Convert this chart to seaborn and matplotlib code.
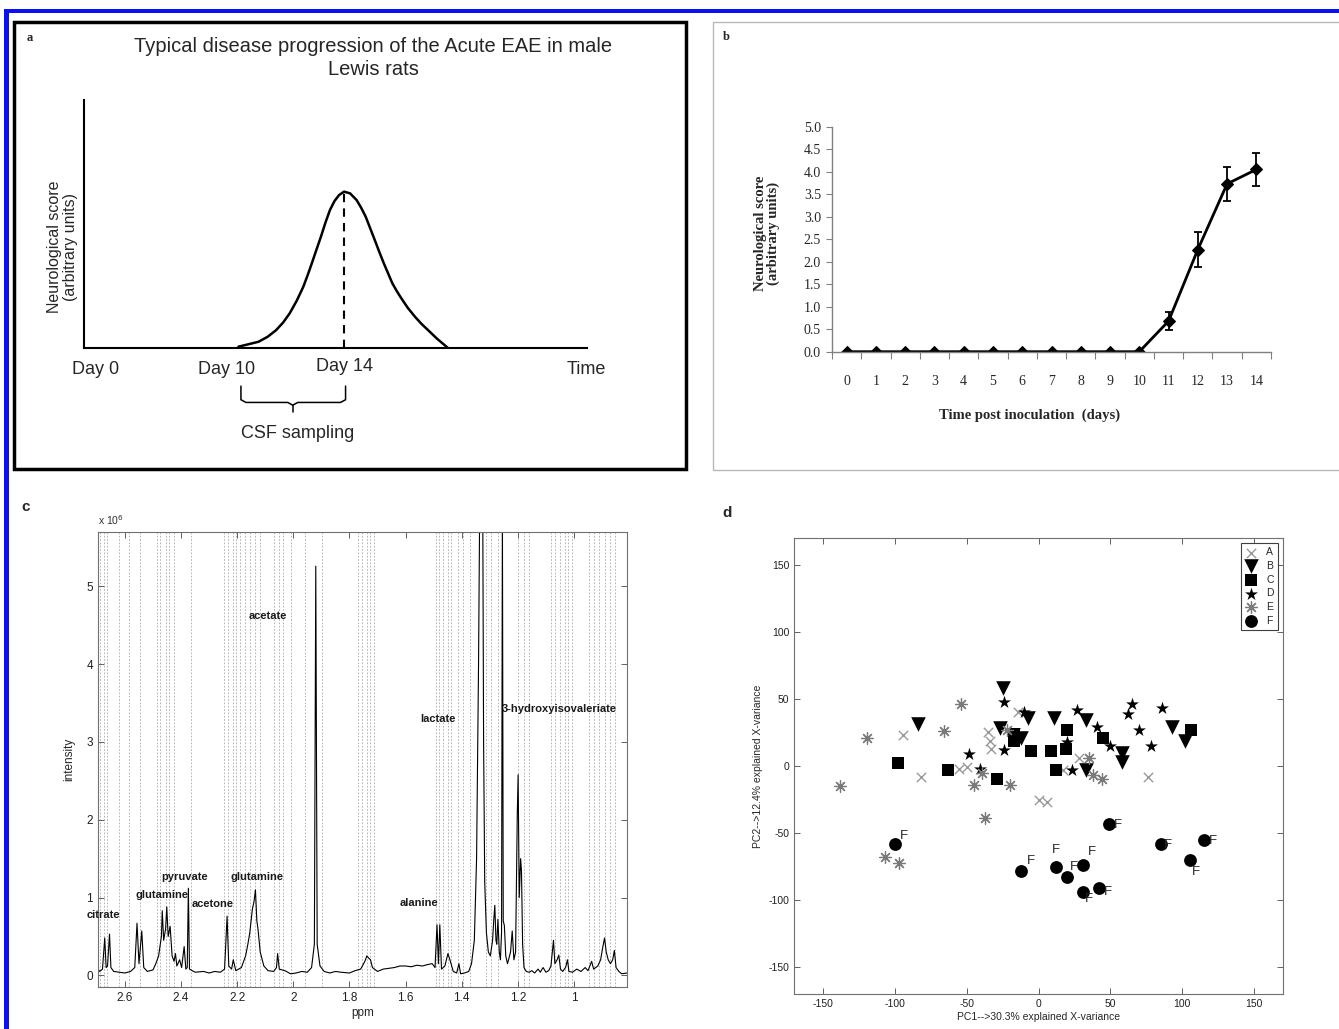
import numpy as np
import pandas as pd
import matplotlib
matplotlib.use("Agg")
import matplotlib.pyplot as plt
from matplotlib.patches import Rectangle
import seaborn as sns

# ---------------- data ----------------
# panel a : schematic disease curve (time units 0-100, score 0-100)
curve_t = [30.7, 34.7, 36.5, 38.2, 39.6, 40.9, 42.3, 43.6, 44.5, 45.3,
           46.2, 47.1, 48.0, 48.9, 49.8, 50.7, 51.7, 52.9, 54.2, 55.1,
           56.0, 56.9, 57.8, 58.7, 59.6, 60.5, 61.3, 62.2, 63.1, 64.4,
           65.8, 67.1, 68.4, 70.2, 72.3]
curve_score = [0.4, 2.4, 4.4, 7.1, 10.2, 13.9, 19.0, 24.6, 29.5, 34.1,
               39.5, 44.8, 50.5, 55.6, 59.2, 61.6, 63.0, 62.3, 59.6, 56.5,
               52.9, 48.2, 43.5, 38.7, 34.1, 29.8, 26.0, 22.8, 19.9, 16.0,
               12.5, 9.6, 7.1, 3.6, 0.0]
day_labels = ["Day 0", "Day 10", "Day 14", "Time"]
day_pos = [2.2, 28.4, 51.8, 99.8]

# panel b : neurological score per day
days = list(range(15))
score_mean = [0, 0, 0, 0, 0, 0, 0, 0, 0, 0, 0, 0.68, 2.27, 3.73, 4.05]
score_err = [0, 0, 0, 0, 0, 0, 0, 0, 0, 0, 0, 0.20, 0.38, 0.38, 0.37]

# panel c : CSF 1H NMR spectrum, intensity in 1e6 units
ppm = [2.700, 2.690, 2.680, 2.672, 2.667, 2.662, 2.655, 2.650, 2.640, 2.620,
       2.600, 2.580, 2.565, 2.557, 2.550, 2.540, 2.533, 2.520, 2.500, 2.490,
       2.480, 2.476, 2.470, 2.467, 2.462, 2.455, 2.451, 2.446, 2.439, 2.432,
       2.425, 2.420, 2.415, 2.405, 2.398, 2.389, 2.383, 2.378, 2.374, 2.370,
       2.350, 2.320, 2.300, 2.280, 2.260, 2.245, 2.236, 2.230, 2.220, 2.214,
       2.205, 2.185, 2.170, 2.162, 2.155, 2.146, 2.140, 2.135, 2.130, 2.126,
       2.118, 2.105, 2.090, 2.070, 2.060, 2.056, 2.050, 2.030, 2.010, 1.990,
       1.970, 1.950, 1.935, 1.925, 1.920, 1.915, 1.905, 1.890, 1.870, 1.850,
       1.830, 1.800, 1.780, 1.760, 1.745, 1.738, 1.731, 1.725, 1.718, 1.700,
       1.680, 1.660, 1.640, 1.620, 1.600, 1.580, 1.560, 1.540, 1.520, 1.505,
       1.495, 1.488, 1.483, 1.478, 1.472, 1.460, 1.449, 1.442, 1.430, 1.418,
       1.410, 1.404, 1.390, 1.375, 1.365, 1.355, 1.347, 1.340, 1.336, 1.330,
       1.325, 1.322, 1.318, 1.312, 1.305, 1.298, 1.290, 1.286, 1.282, 1.278,
       1.275, 1.271, 1.266, 1.262, 1.258, 1.255, 1.252, 1.248, 1.243, 1.237,
       1.233, 1.226, 1.220, 1.214, 1.208, 1.202, 1.199, 1.195, 1.190, 1.187,
       1.183, 1.178, 1.170, 1.160, 1.150, 1.140, 1.128, 1.120, 1.110, 1.100,
       1.090, 1.082, 1.073, 1.068, 1.060, 1.054, 1.048, 1.040, 1.030, 1.023,
       1.018, 1.005, 0.990, 0.975, 0.960, 0.950, 0.937, 0.930, 0.915, 0.905,
       0.898, 0.891, 0.885, 0.878, 0.870, 0.862, 0.856, 0.850, 0.840, 0.830,
       0.811]
intensity = [0.10, 0.05, 0.08, 0.48, 0.10, 0.12, 0.53, 0.10, 0.05, 0.04,
             0.03, 0.05, 0.10, 0.67, 0.15, 0.57, 0.10, 0.05, 0.07, 0.15,
             0.25, 0.35, 0.50, 0.83, 0.45, 0.60, 0.88, 0.50, 0.63, 0.25,
             0.18, 0.28, 0.12, 0.20, 0.10, 0.37, 0.08, 0.10, 1.12, 0.08,
             0.04, 0.05, 0.03, 0.05, 0.04, 0.08, 0.76, 0.12, 0.08, 0.20,
             0.06, 0.10, 0.25, 0.40, 0.55, 0.85, 0.95, 1.10, 0.70, 0.60,
             0.30, 0.12, 0.06, 0.05, 0.10, 0.28, 0.08, 0.06, 0.02, 0.03,
             0.05, 0.04, 0.10, 0.40, 5.26, 0.40, 0.12, 0.05, 0.03, 0.05,
             0.04, 0.03, 0.06, 0.08, 0.18, 0.25, 0.22, 0.20, 0.10, 0.05,
             0.08, 0.09, 0.10, 0.12, 0.12, 0.11, 0.13, 0.12, 0.14, 0.15,
             0.10, 0.65, 0.15, 0.65, 0.08, 0.12, 0.28, 0.20, 0.05, 0.03,
             0.15, 0.02, 0.03, 0.05, 0.15, 0.45, 1.50, 4.00, 6.00, 6.00,
             6.00, 3.00, 1.20, 0.55, 0.30, 0.25, 0.45, 0.70, 0.90, 0.45,
             0.40, 0.72, 0.30, 0.20, 0.55, 6.00, 0.70, 0.64, 0.25, 0.15,
             0.20, 0.30, 0.57, 0.20, 0.30, 2.06, 2.58, 1.00, 1.50, 1.34,
             0.40, 0.10, 0.05, 0.04, 0.06, 0.03, 0.08, 0.04, 0.10, 0.04,
             0.06, 0.12, 0.45, 0.15, 0.20, 0.26, 0.08, 0.05, 0.10, 0.20,
             0.05, 0.04, 0.08, 0.05, 0.10, 0.06, 0.18, 0.08, 0.12, 0.20,
             0.35, 0.48, 0.30, 0.20, 0.15, 0.20, 0.32, 0.10, 0.05, 0.02,
             0.03]
bin_edges = [2.688, 2.676, 2.664, 2.621, 2.584, 2.547, 2.486, 2.474, 2.455,
             2.443, 2.425, 2.363, 2.247, 2.234, 2.216, 2.204, 2.191, 2.173,
             2.155, 2.136, 2.118, 2.069, 2.050, 2.038, 2.007, 1.958, 1.897,
             1.768, 1.756, 1.737, 1.725, 1.713, 1.492, 1.480, 1.468, 1.449,
             1.437, 1.412, 1.394, 1.369, 1.314, 1.296, 1.271, 1.198, 1.179,
             1.161, 1.081, 1.069, 1.050, 1.032, 1.020, 1.007, 0.946, 0.928,
             0.909, 0.891, 0.872, 0.854]
metabolites = ["citrate", "glutamine", "pyruvate", "acetone", "glutamine",
               "acetate", "alanine", "lactate", "3-hydroxyisovaleriate"]
metab_ppm = [2.676, 2.467, 2.386, 2.289, 2.129, 2.092, 1.553, 1.483, 1.051]
metab_int = [0.77, 1.03, 1.26, 0.92, 1.27, 4.62, 0.93, 3.30, 3.42]

# panel d : PCA scores per group
pca_groups = {
    "A": ([-94, -82, -55, -50, -35, -34, -33, -14, 0, 6, 17, 28, 76],
          [23, -8, -2, -1, 25, 19, 13, 40, -25, -27, -3, 6, -8]),
    "B": ([-84, -25, -27, -18, -12, -7, 11, 33, 33, 58, 58, 93, 102],
          [31, 58, 28, 23, 21, 36, 36, 34, -3, 10, 3, 29, 19]),
    "C": ([-98, -63, -29, -17, -17, -5, 9, 20, 19, 12, 45, 106],
          [2, -3, -10, 24, 19, 11, 11, 27, 13, -3, 21, 27]),
    "D": ([-48, -41, -24, -24, -10, 20, 23, 27, 41, 50, 62, 65, 70, 78, 86],
          [9, -2, 48, 12, 40, 18, -3, 42, 29, 15, 39, 46, 27, 15, 43]),
    "E": ([-138, -119, -107, -97, -66, -54, -45, -39, -37, -22, -20, 35, 38, 44],
          [-15, 21, -68, -72, 26, 46, -14, -5, -39, 27, -14, 6, -7, -10]),
    "F": ([-100, -12, 12, 20, 31, 31, 42, 49, 85, 105, 115],
          [-58, -78, -75, -83, -74, -94, -91, -43, -58, -70, -55]),
}
f_label_dx = [6.7, 6.7, 0, 4.5, 6, 4, 6.5, 6, 5, 4.5, 6.5]
f_label_dy = [5.5, 7, 12.5, 8, 10, -5, -3, -1, -1, -9, -1]

# ---------------- style ----------------
sns.set_theme(style="white")
plt.rcParams["font.family"] = ["Liberation Sans", "DejaVu Sans"]
plt.rcParams["axes.unicode_minus"] = False
NARROW = ["Liberation Sans Narrow", "Liberation Sans", "DejaVu Sans"]
SERIF = ["Liberation Serif", "DejaVu Serif"]

W, H = 1339, 1029
fig = plt.figure(figsize=(W / 100, H / 100), dpi=100)


def px_rect(x0, y0, x1, y1):
    return [x0 / W, 1 - y1 / H, (x1 - x0) / W, (y1 - y0) / H]


def add_box(x0, y0, x1, y1, **kw):
    fig.patches.append(Rectangle((x0 / W, 1 - y1 / H), (x1 - x0) / W, (y1 - y0) / H,
                                 transform=fig.transFigure, fill=False, **kw))


# blue border and panel frames
fig.patches.append(Rectangle((4 / W, 0), 5 / W, 1 - 9 / H, transform=fig.transFigure,
                             color="#0c10f4", lw=0))
fig.patches.append(Rectangle((4 / W, 1 - 13 / H), 1, 4 / H, transform=fig.transFigure,
                             color="#0c10f4", lw=0))
add_box(14, 22, 686, 469, edgecolor="black", lw=2.5)
add_box(713, 22, 1345, 470, edgecolor="#b8b8b8", lw=1)

# ---------------- panel a ----------------
ax_a = fig.add_axes(px_rect(84, 100, 587, 347.7))
sns.lineplot(x=curve_t, y=curve_score, color="black", lw=1.8, ax=ax_a, sort=False)
peak = int(np.argmax(curve_score))
ax_a.plot([curve_t[peak], curve_t[peak]], [0, curve_score[peak]], color="black",
          lw=1.5, ls=(0, (4, 3)))
ax_a.set_xlim(0, 100)
ax_a.set_ylim(0, 100)
ax_a.set_xticks([])
ax_a.set_yticks([])
for s in ["top", "right"]:
    ax_a.spines[s].set_visible(False)
for s in ["left", "bottom"]:
    ax_a.spines[s].set_color("black")
    ax_a.spines[s].set_linewidth(1.5)
for lab, pos in zip(day_labels, day_pos):
    yy = -7.5 if lab == "Day 14" else -8.7
    ax_a.text(pos, yy, lab, ha="center", va="center", fontsize=13, family=NARROW,
              clip_on=False)
# bracket for CSF sampling window
ax_a.plot([31.2, 31.2, 32.2, 40.5, 41.5, 42.5, 51.0, 52.0, 52.0],
          [-15.5, -21.0, -22.1, -22.1, -23.2, -22.1, -22.1, -21.0, -15.5],
          color="black", lw=1.1, clip_on=False)
ax_a.plot([41.5, 41.5], [-23.2, -25.8], color="black", lw=1.1, clip_on=False)
ax_a.text(42.5, -34.6, "CSF sampling", ha="center", va="center", fontsize=13,
          family=NARROW, clip_on=False)
ax_a.text(-0.042, 0.408, "Neurological score\n(arbitrary units)", rotation=90,
          ha="center", va="center", fontsize=11.5, transform=ax_a.transAxes,
          linespacing=1.1)
fig.text(373 / W, 1 - 58 / H,
         "Typical disease progression of the Acute EAE in male\nLewis rats",
         ha="center", va="center", fontsize=14.5, family=NARROW, linespacing=1.3)
fig.text(30 / W, 1 - 38 / H, "a", fontsize=9, fontweight="bold", family=SERIF,
         ha="center", va="center")

# ---------------- panel b ----------------
ax_b = fig.add_axes(px_rect(832, 126.7, 1271, 351.7))
sns.lineplot(x=days, y=score_mean, color="black", lw=2, marker="D", markersize=6,
             markeredgecolor="black", ax=ax_b)
ax_b.errorbar(days, score_mean, yerr=score_err, fmt="none", ecolor="black",
              elinewidth=1.3, capsize=3, capthick=1.3)
ax_b.set_xlim(-0.5, 14.5)
ax_b.set_ylim(0, 5)
ax_b.set_xticks(days)
ax_b.set_xticks(np.arange(-0.5, 15, 1), minor=True)
ax_b.set_yticks(np.arange(0, 5.01, 0.5))
ax_b.set_yticklabels([f"{v:.1f}" for v in np.arange(0, 5.01, 0.5)])
ax_b.tick_params(axis="x", which="major", length=0, pad=17, labelsize=10)
ax_b.tick_params(axis="x", which="minor", length=5, width=0.8, color="#808080",
                 direction="out", bottom=True)
ax_b.tick_params(axis="y", length=4, width=0.8, color="#808080", direction="out",
                 left=True, pad=4, labelsize=10)
for lab in ax_b.get_xticklabels() + ax_b.get_yticklabels():
    lab.set_family(SERIF)
for s in ["top", "right"]:
    ax_b.spines[s].set_visible(False)
for s in ["left", "bottom"]:
    ax_b.spines[s].set_color("#808080")
    ax_b.spines[s].set_linewidth(1)
ax_b.set_xlabel("")
ax_b.set_ylabel("")
fig.text(1030 / W, 1 - 415 / H, "Time post inoculation  (days)", ha="center",
         va="center", fontsize=10.5, fontweight="bold", family=SERIF)
fig.text(767 / W, 1 - 233 / H, "Neurological score\n(arbitrary units)", ha="center",
         va="center", fontsize=10.5, fontweight="bold", family=SERIF, rotation=90,
         linespacing=1.0)
fig.text(726 / W, 1 - 37 / H, "b", fontsize=9, fontweight="bold", family=SERIF,
         ha="center", va="center")

# ---------------- panel c ----------------
ax_c = fig.add_axes(px_rect(98, 532, 627, 987))
for e in bin_edges:
    ax_c.axvline(e, color="#a8a8a8", lw=0.6, ls=(0, (2, 2)), zorder=0)
spec = pd.DataFrame({"ppm": ppm, "intensity": intensity})
sns.lineplot(data=spec, x="ppm", y="intensity", color="black", lw=0.8,
             estimator=None, ax=ax_c)
ax_c.set_xlim(2.696, 0.811)
ax_c.set_ylim(-0.15, 5.70)
ax_c.set_xticks([2.6, 2.4, 2.2, 2.0, 1.8, 1.6, 1.4, 1.2, 1.0])
ax_c.set_xticklabels(["2.6", "2.4", "2.2", "2", "1.8", "1.6", "1.4", "1.2", "1"])
ax_c.set_yticks([0, 1, 2, 3, 4, 5])
ax_c.tick_params(direction="in", length=4, width=0.7, color="#606060",
                 top=True, right=True, bottom=True, left=True, labelsize=8.5,
                 labelcolor="#202020")
for s in ax_c.spines.values():
    s.set_color("#707070")
    s.set_linewidth(0.8)
ax_c.set_xlabel("ppm", fontsize=8.5, labelpad=2)
ax_c.set_ylabel("intensity", fontsize=8.5, labelpad=8)
for name, x, y in zip(metabolites, metab_ppm, metab_int):
    ax_c.text(x, y, name, ha="center", va="center", fontsize=8, fontweight="bold",
              color="#1a1a1a")
ax_c.text(0.0, 1.012, "x 10$^6$", transform=ax_c.transAxes, fontsize=7.5,
          ha="left", va="bottom", color="#303030")
fig.text(26 / W, 1 - 507 / H, "c", fontsize=11, fontweight="bold",
         ha="center", va="center")

# ---------------- panel d ----------------
ax_d = fig.add_axes(px_rect(794, 538, 1283, 994))
marker_style = {
    "A": dict(marker="x", color="#999999", s=45, linewidth=1.0),
    "B": dict(marker="v", color="black", s=110, linewidth=0),
    "C": dict(marker="s", color="black", s=70, linewidth=0),
    "D": dict(marker="*", color="black", s=95, linewidth=0),
    "E": dict(marker=(8, 2, 0), color="#7a7a7a", s=70, linewidth=0.9),
    "F": dict(marker="o", color="black", s=85, linewidth=0),
}
for grp, (gx, gy) in pca_groups.items():
    sns.scatterplot(x=gx, y=gy, ax=ax_d, label=grp, **marker_style[grp])
fx, fy = pca_groups["F"]
for x, y, dx, dy in zip(fx, fy, f_label_dx, f_label_dy):
    ax_d.text(x + dx, y + dy, "F", fontsize=9.5, ha="center", va="center")
ax_d.set_xlim(-170, 170)
ax_d.set_ylim(-170, 170)
ticks = [-150, -100, -50, 0, 50, 100, 150]
ax_d.set_xticks(ticks)
ax_d.set_yticks(ticks)
ax_d.tick_params(direction="in", length=4, width=0.7, color="#606060",
                 top=True, right=True, bottom=True, left=True, labelsize=7.5,
                 labelcolor="#202020")
for s in ax_d.spines.values():
    s.set_color("#707070")
    s.set_linewidth(0.8)
ax_d.set_xlabel("PC1-->30.3% explained X-variance", fontsize=7.5, labelpad=2)
ax_d.set_ylabel("PC2-->12.4% explained X-variance", fontsize=7.5, labelpad=4)
leg = ax_d.legend(loc="upper right", fontsize=7.5, frameon=True, fancybox=False,
                  framealpha=1, edgecolor="#404040", handlelength=1.0,
                  handletextpad=1.0, labelspacing=0.35, borderpad=0.4,
                  borderaxespad=0.5, markerfirst=True)
leg.get_frame().set_linewidth(0.8)
fig.text(727 / W, 1 - 513 / H, "d", fontsize=11, fontweight="bold",
         ha="center", va="center")

fig.savefig("out.png", dpi=100)
